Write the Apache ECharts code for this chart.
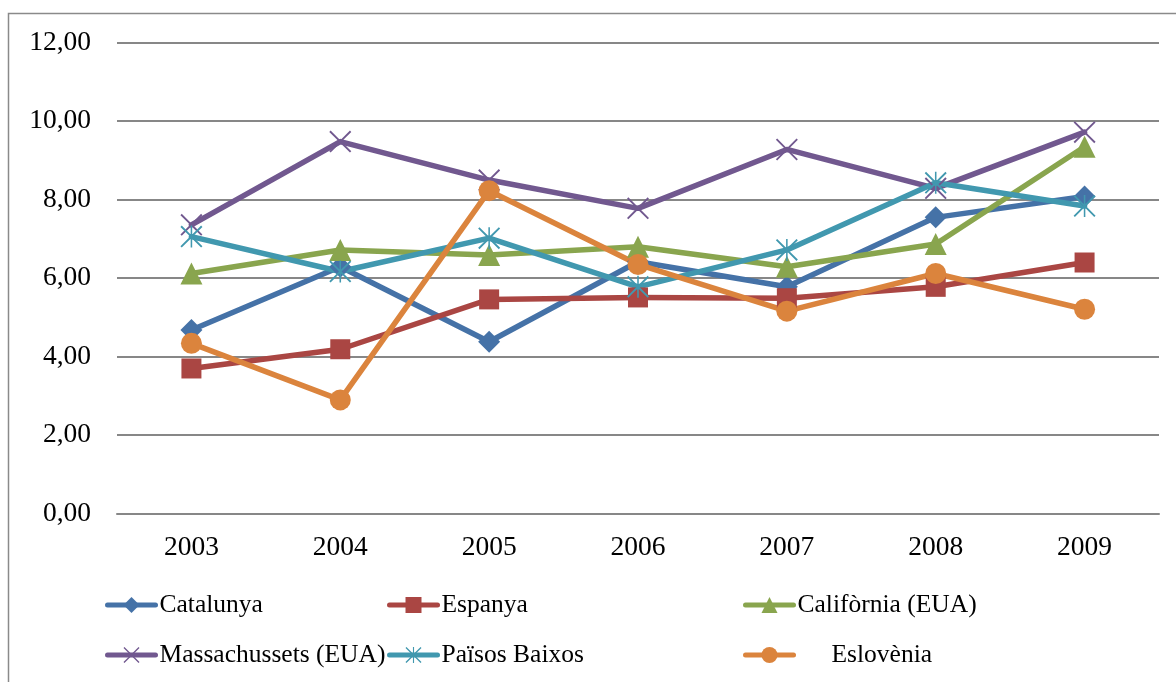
<!DOCTYPE html>
<html>
<head>
<meta charset="utf-8">
<script src="https://cdn.jsdelivr.net/npm/echarts@6/dist/echarts.min.js"></script>
<style>
  html, body { margin: 0; padding: 0; background: #fff; }
  #chart { width: 1176px; height: 682px; }
</style>
</head>
<body>
<div id="chart"></div>
<script>
// Years on the category axis
const years = ['2003', '2004', '2005', '2006', '2007', '2008', '2009'];

// Values per region, 2003–2009
const catalunya     = [4.68, 6.29, 4.38, 6.42, 5.78, 7.55, 8.08];
const espanya       = [3.70, 4.19, 5.46, 5.51, 5.49, 5.78, 6.40];
const california    = [6.12, 6.72, 6.59, 6.80, 6.29, 6.87, 9.35];
const massachussets = [7.36, 9.48, 8.50, 7.78, 9.28, 8.29, 9.72];
const paisosBaixos  = [7.06, 6.17, 7.02, 5.78, 6.72, 8.43, 7.84];
const eslovenia     = [4.34, 2.90, 8.23, 6.35, 5.16, 6.12, 5.21];

// Series names as shown in the legend
const names = ['Catalunya', 'Espanya', 'Califòrnia (EUA)', 'Massachussets (EUA)', 'Països Baixos', 'Eslovènia'];

// Value axis range
const yMin = 0, yMax = 12, yStep = 2;

const FONT = '"Liberation Serif", "Times New Roman", serif';

// Thin-stroke marker shapes
const crossPath = 'path://M0,1.2L1.2,0L10,8.8L18.8,0L20,1.2L11.2,10L20,18.8L18.8,20L10,11.2L1.2,20L0,18.8L8.8,10Z';
const starPath = crossPath + 'M9.3,0L10.7,0L10.7,20L9.3,20Z';

const styles = [
  { color: '#4572A7', symbol: 'diamond',  size: 22 },
  { color: '#AA4643', symbol: 'rect',     size: 20 },
  { color: '#89A54E', symbol: 'triangle', size: 22 },
  { color: '#71588F', symbol: crossPath,  size: 22 },
  { color: '#4198AF', symbol: starPath,   size: 22 },
  { color: '#DB843D', symbol: 'circle',   size: 21 }
];
const values = [catalunya, espanya, california, massachussets, paisosBaixos, eslovenia];

const series = names.map((name, i) => ({
  name: name,
  type: 'line',
  data: values[i],
  symbol: styles[i].symbol,
  symbolSize: styles[i].size,
  showAllSymbol: true,
  lineStyle: { color: styles[i].color, width: 5.5, join: 'round', cap: 'round' },
  itemStyle: { color: styles[i].color, borderWidth: 0 },
  emphasis: { disabled: true },
  animation: false
}));

// Legend positions: three columns, two rows
const legendCols = [105, 387, 743];
const legendRows = [590, 640];
const legends = names.map((name, i) => ({
  data: [name],
  left: legendCols[i % 3],
  top: legendRows[Math.floor(i / 3)],
  orient: 'horizontal',
  itemWidth: 48,
  itemHeight: 20,
  itemGap: 0,
  padding: 0,
  selectedMode: false,
  lineStyle: { width: 5, cap: 'round' },
  textStyle: {
    fontFamily: FONT,
    fontSize: 25.5,
    color: '#000',
    lineHeight: 30,
    padding: name === 'Eslovènia' ? [0, 0, 0, 33] : [0, 0, 0, -1]
  }
}));

const chart = echarts.init(document.getElementById('chart'), null, { renderer: 'canvas' });
chart.setOption({
  backgroundColor: '#fff',
  animation: false,
  grid: { left: 117, right: 17, top: 42.7, bottom: 168.3, containLabel: false },
  xAxis: {
    type: 'category',
    data: years,
    boundaryGap: true,
    axisLine: { show: true, lineStyle: { color: '#878787', width: 2 } },
    axisTick: { show: false },
    axisLabel: { fontFamily: FONT, fontSize: 27.5, color: '#000', margin: 20 },
    splitLine: { show: false }
  },
  yAxis: {
    type: 'value',
    min: yMin,
    max: yMax,
    interval: yStep,
    axisLine: { show: false },
    axisTick: { show: false },
    axisLabel: {
      fontFamily: FONT, fontSize: 27.5, color: '#000', margin: 26,
      formatter: v => v.toFixed(2).replace('.', ',')
    },
    splitLine: { show: true, lineStyle: { color: '#878787', width: 2 } }
  },
  legend: legends,
  series: series,
  graphic: [{
    type: 'rect',
    shape: { x: 8.5, y: 13.5, width: 1300, height: 800 },
    style: { fill: 'none', stroke: '#8a8a8a', lineWidth: 1.5 },
    silent: true
  }]
});
</script>
</body>
</html>
